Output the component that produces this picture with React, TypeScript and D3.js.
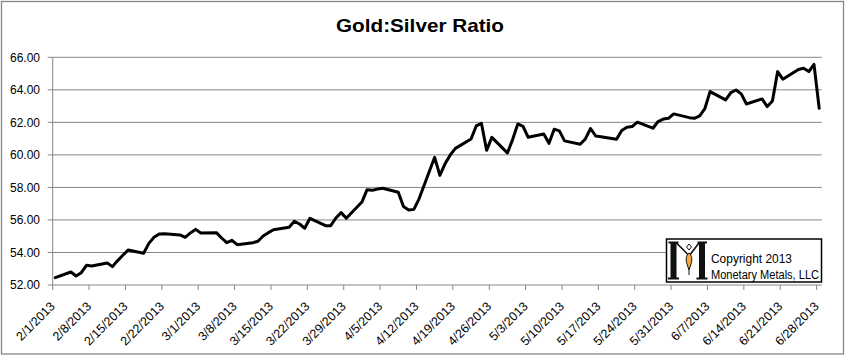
import React from "react";
import * as d3 from "d3";

// ---- data ----
const tradingDays: string[] = [
  "2/1/2013","2/4/2013","2/5/2013","2/6/2013","2/7/2013","2/8/2013",
  "2/11/2013","2/12/2013","2/13/2013","2/14/2013","2/15/2013",
  "2/18/2013","2/19/2013","2/20/2013","2/21/2013","2/22/2013",
  "2/25/2013","2/26/2013","2/27/2013","2/28/2013","3/1/2013",
  "3/4/2013","3/5/2013","3/6/2013","3/7/2013","3/8/2013",
  "3/11/2013","3/12/2013","3/13/2013","3/14/2013","3/15/2013",
  "3/18/2013","3/19/2013","3/20/2013","3/21/2013","3/22/2013",
  "3/25/2013","3/26/2013","3/27/2013","3/28/2013","3/29/2013",
  "4/1/2013","4/2/2013","4/3/2013","4/4/2013","4/5/2013",
  "4/8/2013","4/9/2013","4/10/2013","4/11/2013","4/12/2013",
  "4/15/2013","4/16/2013","4/17/2013","4/18/2013","4/19/2013",
  "4/22/2013","4/23/2013","4/24/2013","4/25/2013","4/26/2013",
  "4/29/2013","4/30/2013","5/1/2013","5/2/2013","5/3/2013",
  "5/6/2013","5/7/2013","5/8/2013","5/9/2013","5/10/2013",
  "5/13/2013","5/14/2013","5/15/2013","5/16/2013","5/17/2013",
  "5/20/2013","5/21/2013","5/22/2013","5/23/2013","5/24/2013",
  "5/27/2013","5/28/2013","5/29/2013","5/30/2013","5/31/2013",
  "6/3/2013","6/4/2013","6/5/2013","6/6/2013","6/7/2013",
  "6/10/2013","6/11/2013","6/12/2013","6/13/2013","6/14/2013",
  "6/17/2013","6/18/2013","6/19/2013","6/20/2013","6/21/2013",
  "6/24/2013","6/25/2013","6/26/2013","6/27/2013","6/28/2013",
];

const goldSilverRatio: number[] = [
  52.45, 52.80, 52.55, 52.76, 53.21, 53.17,
  53.35, 53.13, 53.50, 53.83, 54.15,
  53.95, 54.56, 54.93, 55.14, 55.15,
  55.08, 54.93, 55.20, 55.42, 55.20,
  55.22, 54.89, 54.60, 54.75, 54.48,
  54.60, 54.69, 55.01, 55.22, 55.40,
  55.55, 55.92, 55.75, 55.49, 56.10,
  55.65, 55.65, 56.12, 56.45, 56.10,
  57.10, 57.86, 57.82, 57.90, 57.95,
  57.70, 56.82, 56.61, 56.65, 57.30,
  59.85, 58.74, 59.45, 60.00, 60.40,
  60.98, 61.78, 61.94, 60.28, 61.08,
  60.12, 60.94, 61.90, 61.76, 61.08,
  61.28, 60.71, 61.58, 61.48, 60.86,
  60.65, 60.98, 61.62, 61.16, 61.12,
  60.96, 61.50, 61.70, 61.74, 62.01,
  61.64, 62.05, 62.20, 62.25, 62.52,
  62.29, 62.25, 62.40, 62.85, 63.89,
  63.38, 63.83, 63.99, 63.75, 63.13,
  63.44, 62.97, 63.32, 65.12, 64.65,
  65.25, 65.33, 65.12, 65.56, 62.87,
];

const weekTickLabels: string[] = [
  "2/1/2013","2/8/2013","2/15/2013","2/22/2013","3/1/2013","3/8/2013",
  "3/15/2013","3/22/2013","3/29/2013","4/5/2013","4/12/2013","4/19/2013",
  "4/26/2013","5/3/2013","5/10/2013","5/17/2013","5/24/2013","5/31/2013",
  "6/7/2013","6/14/2013","6/21/2013","6/28/2013",
];

const yTickValues: number[] = [52, 54, 56, 58, 60, 62, 64, 66];

const axisStart = "2/1/2013";
const axisEnd = "6/29/2013";

const title = "Gold:Silver Ratio";
const logoLines = ["Copyright 2013", "Monetary Metals, LLC"];

// ---- chart ----
const W = 847;
const H = 356;
const FONT = "'Liberation Sans', Arial, sans-serif";
const GRID = "#868686";

export default function App() {
  const parse = d3.utcParse("%m/%d/%Y");
  const left = 52.7;
  const right = 821.8;
  const top = 57.3;
  const bottom = 285;

  const x = d3
    .scaleUtc()
    .domain([parse(axisStart)!, parse(axisEnd)!])
    .range([left, right]);
  const y = d3.scaleLinear().domain([52, 66]).range([bottom, top]);

  const pts = tradingDays.map((d, i) => ({
    date: d3.utcHour.offset(parse(d)!, 12),
    v: goldSilverRatio[i],
  }));

  const line = d3
    .line<{ date: Date; v: number }>()
    .x((d) => x(d.date))
    .y((d) => y(d.v));

  const fmt = d3.format(".2f");

  const lg = { x: 666.5, y: 239, w: 155, h: 43 };

  return (
    <svg
      width={W}
      height={H}
      style={{ position: "absolute", left: 0, top: 0, background: "#fff" }}
      fontFamily={FONT}
    >
      <rect x={0} y={0} width={W} height={H} fill="#fff" />
      <rect
        x={1.5}
        y={1.5}
        width={842}
        height={352.5}
        fill="none"
        stroke={GRID}
        strokeWidth={1.3}
      />

      <text
        x={420}
        y={32}
        textAnchor="middle"
        fontSize={19}
        fontWeight="bold"
        fill="#000"
        textLength={168}
        lengthAdjust="spacingAndGlyphs"
      >
        {title}
      </text>

      {/* gridlines */}
      {yTickValues.map((t) => (
        <g key={t}>
          {t !== 52 && (
            <line
              x1={left}
              x2={right}
              y1={y(t)}
              y2={y(t)}
              stroke={GRID}
              strokeWidth={1}
            />
          )}
          <line x1={left - 5} x2={left} y1={y(t)} y2={y(t)} stroke={GRID} strokeWidth={1} />
          <text
            x={40}
            y={y(t)}
            dy="0.36em"
            textAnchor="end"
            fontSize={12}
            fill="#000"
          >
            {fmt(t)}
          </text>
        </g>
      ))}

      {/* axes */}
      <line x1={left} x2={left} y1={top} y2={bottom} stroke={GRID} strokeWidth={1} />
      <line x1={left} x2={right} y1={bottom} y2={bottom} stroke={GRID} strokeWidth={1} />

      {weekTickLabels.map((lab) => {
        const tx = x(parse(lab)!);
        return (
          <g key={lab}>
            <line x1={tx} x2={tx} y1={bottom} y2={bottom + 5} stroke={GRID} strokeWidth={1} />
            <text
              transform={`translate(${tx + 3},${307}) rotate(-45)`}
              textAnchor="end"
              fontSize={12.5}
              fill="#000"
            >
              {lab}
            </text>
          </g>
        );
      })}

      {/* data line */}
      <path
        d={line(pts) || ""}
        fill="none"
        stroke="#000"
        strokeWidth={3}
        strokeLinejoin="round"
        strokeLinecap="round"
      />

      {/* logo box */}
      <g transform={`translate(${lg.x},${lg.y})`}>
        <rect x={0} y={0} width={lg.w} height={lg.h} fill="#fff" stroke="#000" strokeWidth={1.5} />
        {/* stylised M */}
        <path d="M2,2.5 H12 V4.5 H10 V38.5 H12.5 V40.5 H1.5 V38.5 H4 V4.5 H2 Z" fill="#111" />
        <path d="M31,2.5 H40.5 V4.5 H38.5 V38.5 H41 V40.5 H30 V38.5 H32.5 V4.5 H31 Z" fill="#111" />
        <path d="M10,4 L21,15 M32.5,4 L24,15" stroke="#111" strokeWidth={1.6} fill="none" />
        <path d="M22.5,5 L25,8 L22.5,11 L20,8 Z" fill="#fff" stroke="#111" strokeWidth={1} />
        <path
          d="M22.5,14 C25.5,16 26,21 24.5,25 L22.5,31 L20.5,25 C19,21 19.5,16 22.5,14 Z"
          fill="#f4a640"
          stroke="#111"
          strokeWidth={1}
        />
        <line x1={22.5} x2={22.5} y1={31} y2={36} stroke="#111" strokeWidth={1} />
        <text
          x={44.5}
          y={24}
          fontSize={12}
          fill="#000"
          textLength={81}
          lengthAdjust="spacingAndGlyphs"
        >
          {logoLines[0]}
        </text>
        <text
          x={44.5}
          y={39.5}
          fontSize={12}
          fill="#000"
          textLength={108}
          lengthAdjust="spacingAndGlyphs"
        >
          {logoLines[1]}
        </text>
      </g>
    </svg>
  );
}
